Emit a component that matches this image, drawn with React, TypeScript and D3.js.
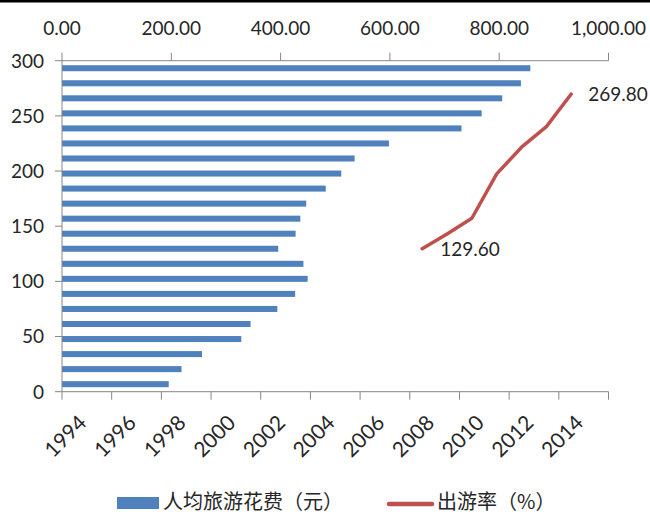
import React from "react";
import * as d3 from "d3";

// Years on the category axes (1994–2015)
const years: number[] = d3.range(1994, 2016);

// 人均旅游花费（元）per year, 1994–2015
const spending: number[] = [
  195.3, 218.7, 256.2, 328.1, 345.0, 394.0, 426.6, 449.5, 441.8, 395.7, 427.5,
  436.1, 446.9, 482.6, 511.0, 535.4, 598.2, 731.0, 767.9, 805.5, 839.7, 857.0,
];

// 出游率（%）
const rateYears: number[] = [2008, 2009, 2010, 2011, 2012, 2013, 2014];
const rateValues: number[] = [129.6, 143.0, 157.2, 197.4, 221.6, 240.3, 269.8];

// Axis tick values
const topTicks: number[] = [0, 200, 400, 600, 800, 1000];
const leftTicks: number[] = [0, 50, 100, 150, 200, 250, 300];
const bottomLabelYears: number[] = [1994, 1996, 1998, 2000, 2002, 2004, 2006, 2008, 2010, 2012, 2014];

const W = 650;
const H = 515;
const plot = { left: 62, right: 608.5, top: 60.7, bottom: 391.7 };

const BLUE = "#4F81BD";
const RED = "#C0504D";
const AXIS = "#868686";
const TEXT = "#262626";
const NUM_FONT = "Lato, 'Open Sans', sans-serif";
const CJK_FONT = "'Noto Sans CJK SC', 'Noto Sans', sans-serif";

export default function App() {
  // horizontal value axis (top) for the bars
  const xVal = d3.scaleLinear().domain([0, 1000]).range([plot.left, plot.right]);
  // vertical category axis for the bars (1994 at the bottom)
  const yCat = d3
    .scaleBand<number>()
    .domain(years)
    .range([plot.bottom, plot.top])
    .paddingInner(0.6)
    .paddingOuter(0.3);
  // bottom category axis for the line
  const xCat = d3.scaleBand<number>().domain(years).range([plot.left, plot.right]);
  // left value axis for the line
  const yVal = d3.scaleLinear().domain([0, 300]).range([plot.bottom, plot.top]);

  const linePath = d3
    .line<number>()
    .x((_, i) => (xCat(rateYears[i]) as number) + xCat.bandwidth() / 2)
    .y((v) => yVal(v))(rateValues) as string;

  const firstX = (xCat(rateYears[0]) as number) + xCat.bandwidth() / 2;
  const lastIdx = rateYears.length - 1;
  const lastX = (xCat(rateYears[lastIdx]) as number) + xCat.bandwidth() / 2;

  // bottom tick marks every two categories
  const bottomTickXs = d3.range(0, years.length + 1, 2).map((i) => plot.left + i * xCat.step());

  return (
    <div style={{ position: "absolute", left: 0, top: 0 }}>
      <svg width={W} height={H} style={{ display: "block", background: "#fff" }}>
        <rect x={0} y={0} width={W} height={2.5} fill="#000" />

        {/* bars */}
        {years.map((yr, i) => (
          <rect
            key={yr}
            x={xVal(0)}
            y={yCat(yr) as number}
            width={xVal(spending[i]) - xVal(0)}
            height={yCat.bandwidth()}
            fill={BLUE}
          />
        ))}

        {/* top axis */}
        <line x1={plot.left} x2={plot.right} y1={plot.top} y2={plot.top} stroke={AXIS} strokeWidth={1} />
        {topTicks.map((t) => (
          <g key={t}>
            <line x1={xVal(t)} x2={xVal(t)} y1={plot.top - 8} y2={plot.top} stroke={AXIS} strokeWidth={1} />
            <text
              x={xVal(t)}
              y={35}
              textAnchor="middle"
              fontFamily={NUM_FONT}
              fontSize={19}
              fill={TEXT}
            >
              {d3.format(",.2f")(t)}
            </text>
          </g>
        ))}

        {/* left axis */}
        <line x1={plot.left} x2={plot.left} y1={plot.top} y2={plot.bottom} stroke={AXIS} strokeWidth={1} />
        {leftTicks.map((t) => (
          <g key={t}>
            <line x1={plot.left - 7} x2={plot.left} y1={yVal(t)} y2={yVal(t)} stroke={AXIS} strokeWidth={1} />
            <text
              x={44}
              y={yVal(t)}
              dy="0.36em"
              textAnchor="end"
              fontFamily={NUM_FONT}
              fontSize={19}
              fill={TEXT}
            >
              {t}
            </text>
          </g>
        ))}

        {/* bottom axis */}
        <line x1={plot.left} x2={plot.right} y1={plot.bottom} y2={plot.bottom} stroke={AXIS} strokeWidth={1} />
        {bottomTickXs.map((x, i) => (
          <line key={i} x1={x} x2={x} y1={plot.bottom} y2={plot.bottom + 8} stroke={AXIS} strokeWidth={1} />
        ))}
        {bottomLabelYears.map((yr) => {
          const cx = (xCat(yr) as number) + xCat.bandwidth() / 2 + 3;
          const cy = plot.bottom + 22;
          return (
            <text
              key={yr}
              x={cx}
              y={cy}
              dy="0.7em"
              textAnchor="end"
              transform={`rotate(-45 ${cx} ${cy})`}
              fontFamily={NUM_FONT}
              fontSize={21}
              fill={TEXT}
            >
              {yr}
            </text>
          );
        })}

        {/* 出游率 line */}
        <path d={linePath} fill="none" stroke={RED} strokeWidth={3.5} strokeLinejoin="round" strokeLinecap="round" />
        <text
          x={firstX + 18}
          y={yVal(rateValues[0])}
          dy="0.36em"
          fontFamily={NUM_FONT}
          fontSize={19}
          fill={TEXT}
        >
          {d3.format(".2f")(rateValues[0])}
        </text>
        <text
          x={lastX + 17}
          y={yVal(rateValues[lastIdx])}
          dy="0.36em"
          fontFamily={NUM_FONT}
          fontSize={19}
          fill={TEXT}
        >
          {d3.format(".2f")(rateValues[lastIdx])}
        </text>

        {/* legend */}
        <rect x={117} y={497} width={42} height={12} fill={BLUE} />
        <text x={163} y={509} fontFamily={CJK_FONT} fontSize={20} fill={TEXT}>
          人均旅游花费（元）
        </text>
        <line x1={389} x2={432} y1={504} y2={504} stroke={RED} strokeWidth={4.5} strokeLinecap="round" />
        <text x={437} y={509} fontFamily={CJK_FONT} fontSize={20} fill={TEXT}>
          出游率（%）
        </text>
      </svg>
    </div>
  );
}
